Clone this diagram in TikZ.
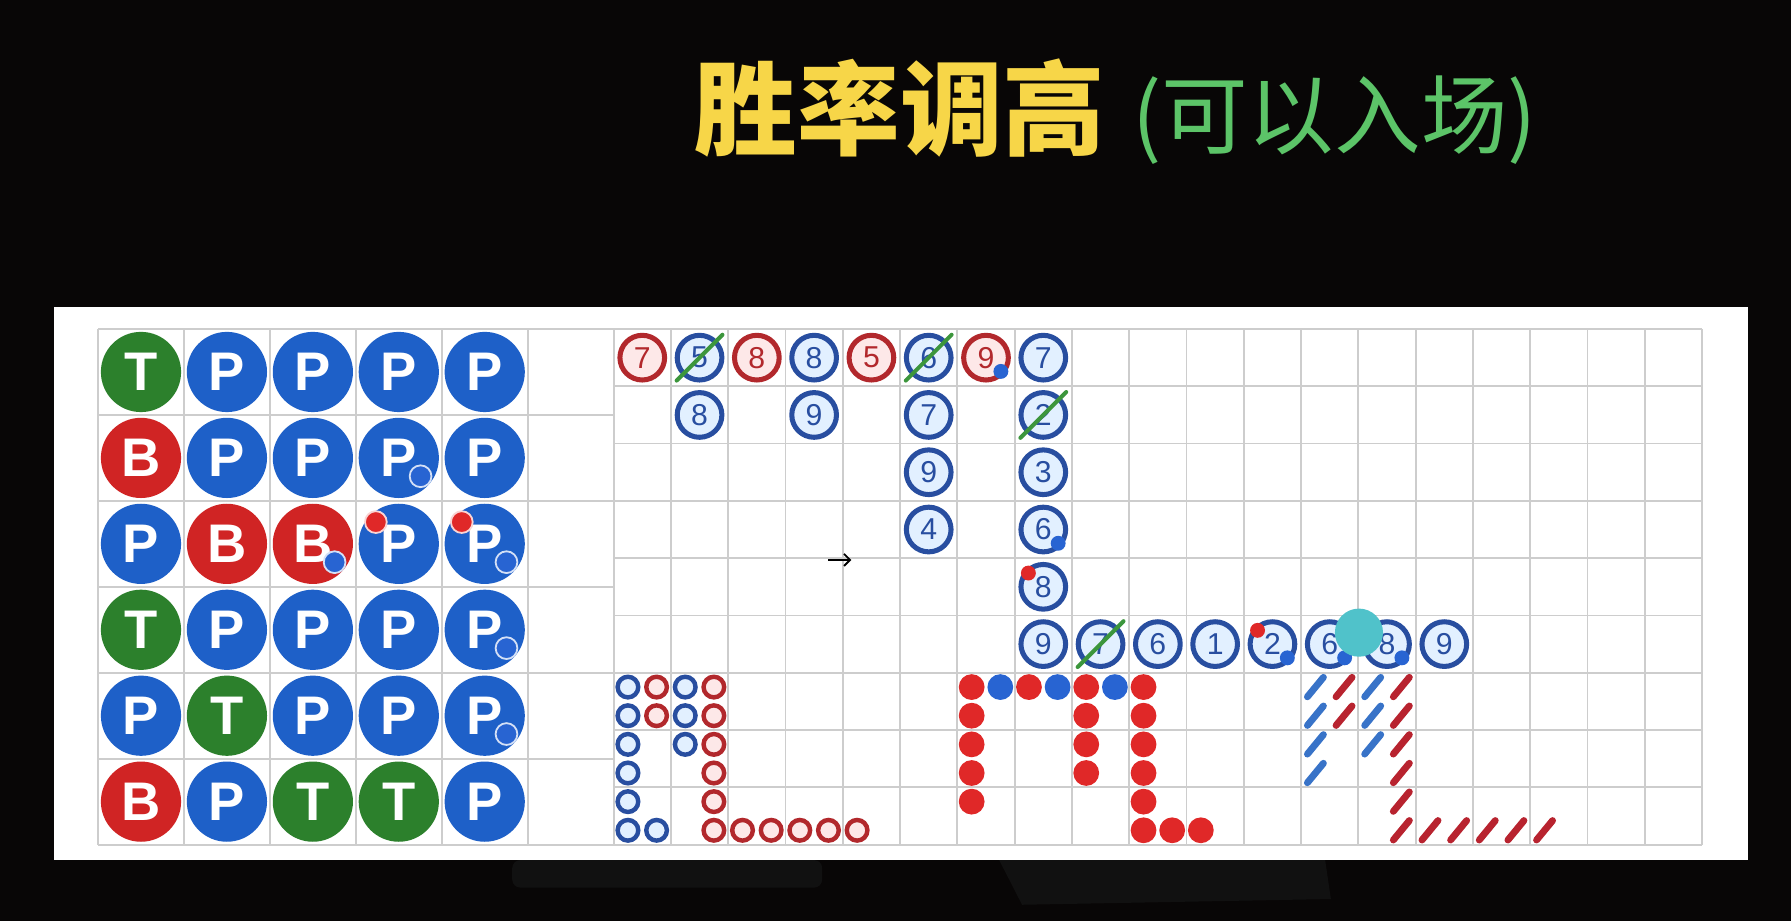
\documentclass[tikz,border=0pt]{standalone}
\usepackage{fontspec}
\setmainfont{Liberation Sans}
\newfontfamily\cjk{Noto Sans CJK SC}
\usepackage{tikz}
\usetikzlibrary{positioning,arrows.meta}
\definecolor{bgblack}{RGB}{8, 6, 6}
\definecolor{bgshade}{RGB}{17, 17, 17}
\definecolor{titleyellow}{RGB}{247, 214, 72}
\definecolor{titlegreen}{RGB}{92, 196, 104}
\definecolor{gridgray}{RGB}{205, 205, 205}
\definecolor{beadT}{RGB}{44, 128, 44}
\definecolor{beadP}{RGB}{30, 96, 200}
\definecolor{beadB}{RGB}{208, 36, 36}
\definecolor{ringB}{RGB}{40, 78, 160}
\definecolor{ringR}{RGB}{178, 40, 44}
\definecolor{ringfillB}{RGB}{226, 240, 255}
\definecolor{ringfillR}{RGB}{253, 232, 232}
\definecolor{dotB}{RGB}{40, 100, 210}
\definecolor{dotR}{RGB}{224, 40, 40}
\definecolor{roachB}{RGB}{56, 115, 200}
\definecolor{roachR}{RGB}{184, 35, 47}
\definecolor{tiegreen}{RGB}{60, 150, 60}
\definecolor{cyanmark}{RGB}{80, 194, 202}

\begin{document}
\begin{tikzpicture}[x=1cm, y=1cm, >=Stealth,
    gridline/.style={draw=gridgray, line width=0.9pt},
    bead/.style={circle, fill=bead#1, minimum size=1.4cm, inner sep=0pt, text=white,
        font=\bfseries\fontsize{27}{27}\selectfont},
    beadspot/.style={circle, fill=dot#1, draw=white!80!dotB, line width=0.9pt,
        minimum size=0.38cm, inner sep=0pt},
    ring/.style={circle, draw=ring#1, fill=ringfill#1, line width=2.5pt, minimum size=0.78cm,
        inner sep=0pt, text=ring#1, font=\fontsize{15}{15}\selectfont},
    ringspot/.style={circle, fill=dot#1, minimum size=0.26cm, inner sep=0pt},
    tie/.style={draw=tiegreen, line width=2pt, line cap=round},
    eye/.style={circle, draw=ring#1, fill=ringfill#1, line width=2.2pt, minimum size=0.36cm, inner sep=0pt},
    pip/.style={circle, fill=dot#1, minimum size=0.45cm, inner sep=0pt},
    roach/.style={draw=roach#1, line width=3.4pt, line cap=round}]

    % Background and frame
    \fill[bgblack] (-1.711,5.743) rectangle (29.552,-10.333);
    \useasboundingbox (-1.711,5.743) rectangle (29.552,-10.333);
    \fill[bgshade, rounded corners=4pt] (7.23,-9.27) -- (12.64,-9.27) -- (12.64,-9.75) -- (7.23,-9.75) -- cycle;
    \fill[bgshade] (15.73,-9.27) -- (21.42,-9.27) -- (21.52,-9.95) -- (16.13,-10.05) -- cycle;
    \fill[white] (-0.768,0.384) rectangle (28.80,-9.27);

    % Title
    \node[inner sep=0pt, text=titleyellow, font=\cjk\bfseries\fontsize{51}{51}\selectfont] (title) at (14.0,3.857) {胜率调高};
    \node[inner sep=0pt, anchor=base west, text=titlegreen, font=\cjk\fontsize{43}{43}\selectfont]
        (subtitle) at ([xshift=0.45cm]title.base east) {(可以入场)};

    % Grids
    \draw[gridline, step=1.5] (0,0) grid (9,-9);
    \draw[gridline, step=1] (9,0) grid (28,-9);

    % Bead plate
    \foreach \line [count=\r from 0] in {{T,P,P,P,P},{B,P,P,P,P},{P,B,B,P,P},{T,P,P,P,P},{P,T,P,P,P},{B,P,T,T,P}}
        \foreach \ch [count=\c from 0] in \line
            \node[bead=\ch] (bp-\r-\c) at (1.5*\c+0.75, -1.5*\r-0.75) {\ch};
    \foreach \r/\c in {1/3, 2/2, 2/4, 3/4, 4/4}
        \node[beadspot=B] (bsb-\r-\c) at ([shift={(0.38,-0.32)}]bp-\r-\c.center) {};
    \foreach \r/\c in {2/3, 2/4}
        \node[beadspot=R, draw=white!80!dotR] (bsr-\r-\c) at ([shift={(-0.40,0.38)}]bp-\r-\c.center) {};

    % Big road
    \foreach \c/\r/\n/\k in {0/0/7/R, 1/0/5/B, 2/0/8/R, 3/0/8/B, 4/0/5/R, 5/0/6/B, 6/0/9/R, 7/0/7/B,
            1/1/8/B, 3/1/9/B, 5/1/7/B, 7/1/2/B, 5/2/9/B, 7/2/3/B, 5/3/4/B, 7/3/6/B, 7/4/8/B,
            7/5/9/B, 8/5/7/B, 9/5/6/B, 10/5/1/B, 11/5/2/B, 12/5/6/B, 13/5/8/B, 14/5/9/B}
        \node[ring=\k] (br-\c-\r) at (9.5+\c, -0.5-\r) {\n};
    \foreach \c/\r in {1/0, 5/0, 7/1, 8/5}
        \draw[tie] ([shift={(-0.4,-0.4)}]br-\c-\r.center) -- ([shift={(0.4,0.4)}]br-\c-\r.center);
    \foreach \c/\r in {6/0, 7/3, 11/5, 12/5, 13/5}
        \node[ringspot=B] (rsb-\c-\r) at ([shift={(0.26,-0.24)}]br-\c-\r.center) {};
    \foreach \c/\r in {7/4, 11/5}
        \node[ringspot=R] (rsr-\c-\r) at ([shift={(-0.26,0.24)}]br-\c-\r.center) {};

    % Big eye road
    \foreach \k/\r/\t in {0/0/B, 0/1/B, 0/2/B, 0/3/B, 0/4/B, 0/5/B, 1/0/R, 1/1/R, 1/5/B, 2/0/B, 2/1/B, 2/2/B,
            3/0/R, 3/1/R, 3/2/R, 3/3/R, 3/4/R, 3/5/R, 4/5/R, 5/5/R, 6/5/R, 7/5/R, 8/5/R}
        \node[eye=\t] (ey-\k-\r) at (9.25+0.5*\k, -6.25-0.5*\r) {};

    % Small road
    \foreach \k/\r/\t in {12/0/R, 12/1/R, 12/2/R, 12/3/R, 12/4/R, 13/0/B, 14/0/R, 15/0/B,
            16/0/R, 16/1/R, 16/2/R, 16/3/R, 17/0/B, 18/0/R, 18/1/R, 18/2/R, 18/3/R, 18/4/R, 18/5/R, 19/5/R, 20/5/R}
        \node[pip=\t] (sr-\k-\r) at (9.25+0.5*\k, -6.25-0.5*\r) {};

    % Cockroach road
    \foreach \k/\r/\t in {24/0/B, 24/1/B, 24/2/B, 24/3/B, 25/0/R, 25/1/R, 26/0/B, 26/1/B, 26/2/B,
            27/0/R, 27/1/R, 27/2/R, 27/3/R, 27/4/R, 27/5/R, 28/5/R, 29/5/R, 30/5/R, 31/5/R, 32/5/R}
        \draw[roach=\t] (9.11+0.5*\k, -6.42-0.5*\r) -- (9.39+0.5*\k, -6.08-0.5*\r);

    % Pointer marks
    \node[circle, fill=cyanmark, minimum size=0.84cm, inner sep=0pt] (cursor) at (22.01,-5.30) {};
    \coordinate (ptr-a) at (12.75,-4.03);
    \coordinate (ptr-b) at (13.15,-4.03);
    \draw[-{Straight Barb[length=3pt,width=6pt]}, line width=0.9pt] (ptr-a) -- (ptr-b);
\end{tikzpicture}
\end{document}
